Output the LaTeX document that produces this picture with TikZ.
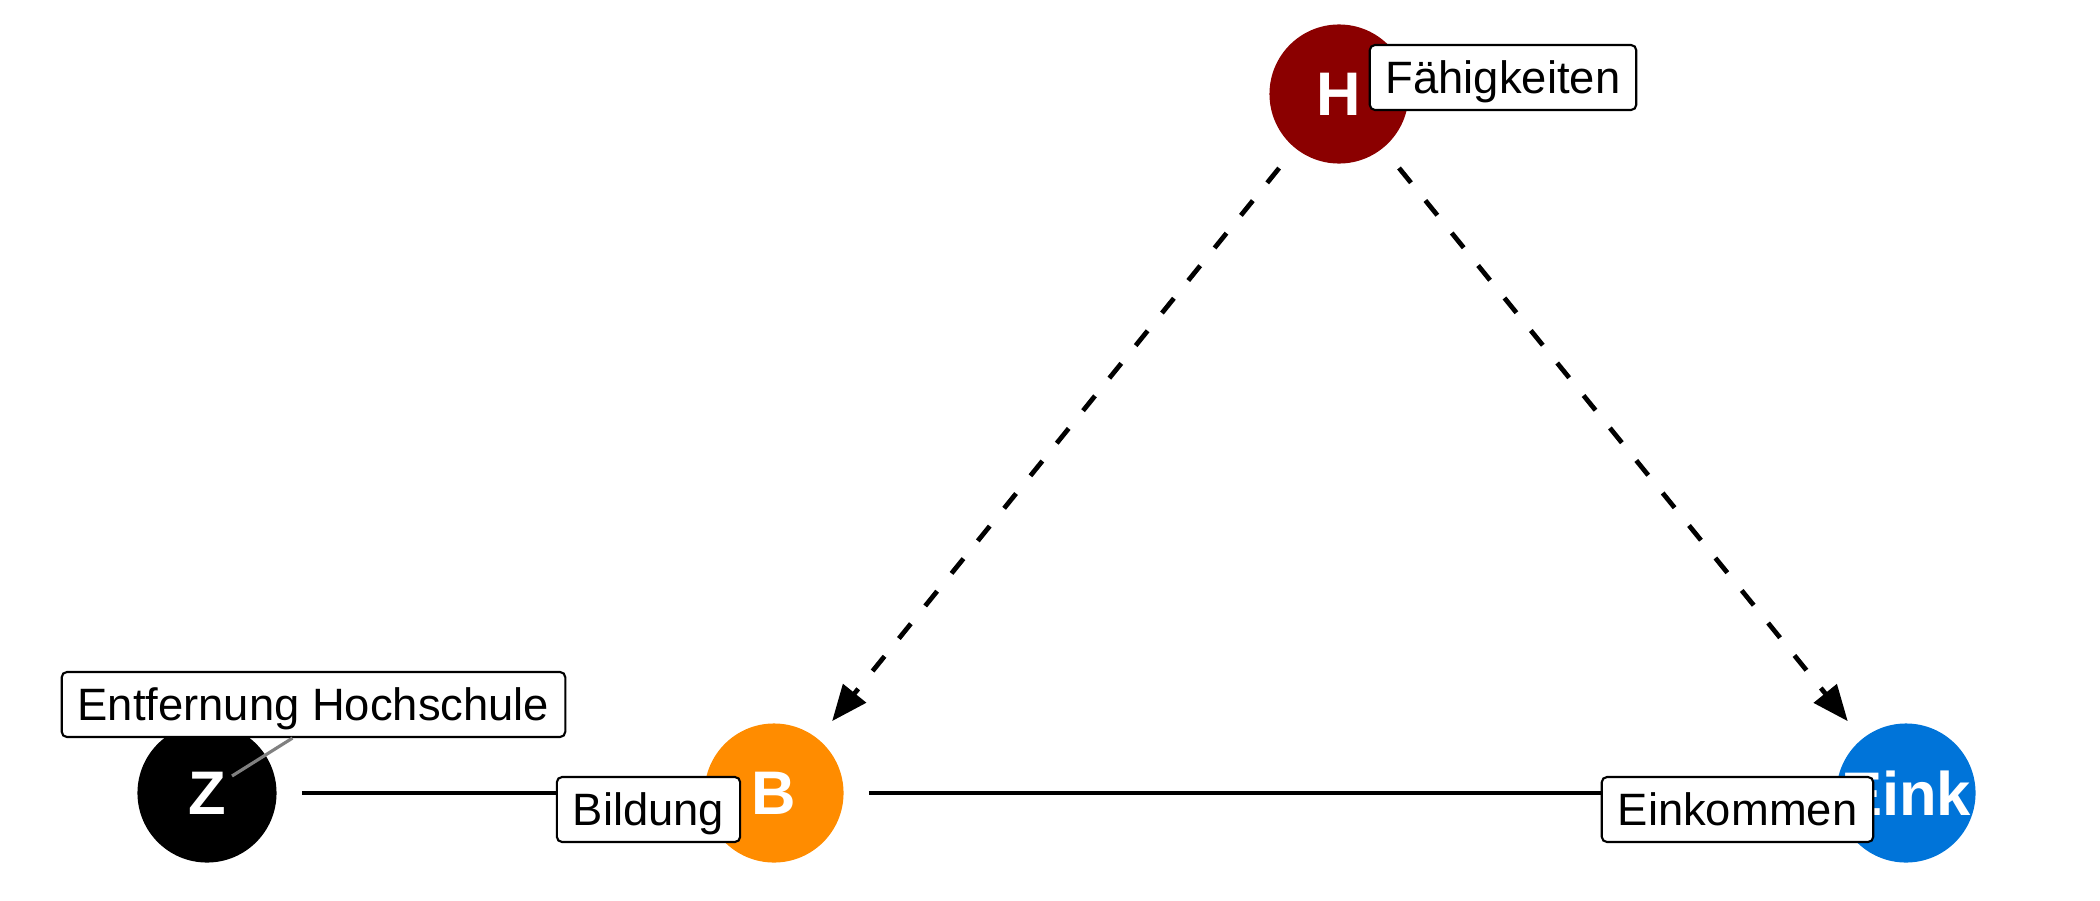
\documentclass[tikz,border=0pt]{standalone}
\usepackage{fontspec}
\setmainfont{Liberation Sans}
\usetikzlibrary{arrows}
\usetikzlibrary{positioning}
\definecolor{hred}{RGB}{139,0,0}
\definecolor{borange}{RGB}{255,140,0}
\definecolor{eblue}{RGB}{0,116,217}
\begin{document}
\begin{tikzpicture}[line cap=butt,>=triangle 45,x=0.01cm,y=-0.01cm,
var/.style={circle,inner sep=0pt,minimum size=1.39cm,text=white,font=\fontsize{17.5}{18}\selectfont\bfseries},
tag/.style={draw=black,line width=0.6pt,rounded corners=1.5pt,fill=white,inner xsep=0.16cm,minimum height=0.65cm,text height=9.2pt,text depth=0pt,font=\fontsize{12.9}{13}\selectfont},
link/.style={line width=1.35pt,shorten <=0.245cm,shorten >=0.245cm},
latent/.style={->,line width=1.35pt,dash pattern=on 5.4pt off 6.5pt,shorten <=0.25cm,shorten >=0.225cm}]
\useasboundingbox (0,0) rectangle (2100,900);
\node[var,fill=hred] (H) at (1339,94) {H};
\node[var,fill=black] (Z) at (207,793) {Z};
\node[var,fill=borange] (B) at (774,793) {B};
\node[var,fill=eblue] (E) at (1906,793) {Eink};
\draw[link] (Z) -- (B);
\draw[link] (B) -- (E);
\draw[latent] (H) -- (B);
\draw[latent] (H) -- (E);
\coordinate (zpin) at (232,776);
\node[tag] (tH) at (1503,77.5) {Fähigkeiten};
\node[tag] (tZ) at (313.5,704.5) {Entfernung Hochschule};
\draw[gray,line width=0.9pt] (zpin) -- ([xshift=-0.21cm]tZ.south);
\node[tag] (tB) at (648.5,809.5) {Bildung};
\node[tag] (tE) at (1737.5,809.5) {Einkommen};
\end{tikzpicture}
\end{document}
